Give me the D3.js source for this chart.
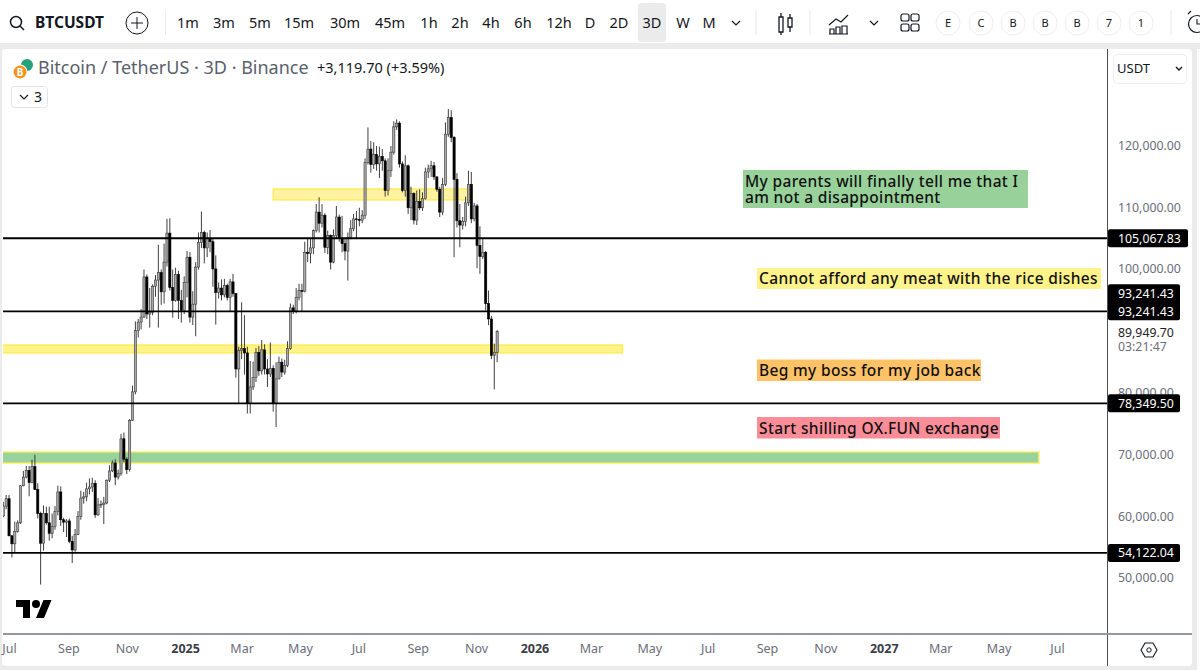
<!DOCTYPE html>
<html>
<head>
<meta charset="utf-8">
<script src="https://cdn.jsdelivr.net/npm/d3@7"></script>
<style>
html, body { margin: 0; padding: 0; background: #fff; }
svg { display: block; font-family: "Noto Sans", sans-serif; }
</style>
</head>
<body>
<svg id="chart" width="1200" height="670"></svg>
<script>
'use strict';

// bars are 3 days apart, first one is 2024-06-24. prices in thousands of USDT
var firstBar = new Date(Date.UTC(2024, 5, 24));

var opens = [
  60.1,61.7,62.9,56.9,55.6,57.6,59,65,66.4,67.5,
  65.5,68.1,64.4,60.5,55.7,60.5,59,57.3,58.4,60.8,
  64,59.5,59.1,59.3,56,54.6,57.1,60,63,63.2,
  64.5,64.8,65.4,60.3,61.9,62,62.2,65.9,67.4,68.7,
  66.4,67,72.6,69.3,67.6,75.6,80.2,90.1,91.5,92.3,
  98.8,92.8,93.1,97.3,98.3,99.5,96.4,101.2,105.9,97.1,
  95,99.2,95,93.4,97.9,102,92.3,94.4,100.4,104.4,
  106,103.5,105,104.5,100.1,96.3,97,95.9,97.4,95.5,
  98,96.1,83.9,86.9,87.2,86.5,78.3,81,82.5,86.6,
  83.6,87,83.9,83.1,84,78.3,82.3,85,83.4,84.5,
  87.2,93.8,93.3,95.5,96.6,96.5,102.8,102.6,103.5,106.3,
  109.3,107.5,108.8,103.6,105.5,101.2,105.5,108.5,105,104.2,
  103,105.2,106.6,108.2,108.1,108,108.8,117.3,119.5,117,
  118.6,117.1,118.3,117.6,112.8,116,119,123.1,123.7,117.1,
  112.8,116.8,110,112.3,108,111,110,111.5,115.8,116.3,
  116.8,115,113,109.3,113.8,121.9,124.6,121.4,114.6,107.9,
  107.2,107.8,110.8,113.8,108.2,110.3,103.9,102.1,102.8,94.5,
  92,86.1,86.6
];
var highs = [
  62.4,63.5,63.5,57,59.2,59.4,65.1,67.4,68.2,68.2,
  69.2,70,65.4,60.8,61.8,61.6,61.6,60.5,61.7,65,
  64.9,59.8,59.6,59.7,56.9,58,60.9,64.2,64,65.5,
  66.2,66.3,65.9,63,62.6,63.2,66,68.3,69.1,69.3,
  67.6,73.4,73.6,69.6,75.8,81.2,91.6,92,93.6,100,
  99.2,97,97.6,99.1,104,100,104.2,108.2,108.3,100,
  100.3,99.8,96.7,98.9,103,102.8,96.5,101.2,106,109.4,
  106.3,106,106.4,105,102.3,97.9,98.4,98.5,97.7,98.5,
  99.3,96.2,87.5,94.7,92.6,87.5,85.2,85.1,87.3,87.6,
  88.6,87.9,85.5,88.2,84.5,85,85.9,85.6,85.4,88.4,
  94.5,94.3,97,97.7,97.7,104.5,105,105,106.5,110.6,
  111.7,110.6,109.1,106.3,105.7,106.5,110.3,108.9,108.7,105,
  106,108,109,109.5,110,109.6,118,123,120.8,120.6,
  120,119.9,119.5,118,118,120,124,124.3,124,117.5,
  118.5,117,113.4,112.5,112.8,113,112.5,116.5,117,117.6,
  117.4,115.1,113.4,114.8,123.8,126,125.8,121.6,115.6,110.6,
  108.5,111.8,116,115.8,110.8,110.6,107,105.2,103,96.6,
  92.5,88,90.2
];
var lows = [
  59.9,61.2,56.8,53.4,54.2,57.4,58.8,64.9,66.2,63.3,
  65.4,64.3,59.7,49,54.5,58.7,56.1,56.5,57.9,60.2,
  58.5,57.5,56.7,55.7,52.5,54.3,57,59.5,62.1,62.5,
  63.6,64,59.8,60.1,61.4,58.8,62,65.6,67.2,65.1,
  66,66.6,68.8,66.9,67.3,75.5,79.8,89,90.3,92.2,
  92,90.6,92.6,95.6,90.6,94.3,94.5,100.5,96.6,92.2,
  94.8,92,91.4,92.8,95.5,91.4,91,89.2,100,103.5,
  101,102,102.8,97.2,91.1,95.3,95,95.5,95,93.2,
  95.6,82.5,78.3,85.5,83,76.7,76.7,80.5,81.8,82.8,
  83,83,81,82.6,77,74.5,82.2,82.6,83,84.2,
  87,92.8,92.9,95,93.2,96.3,101.2,101,102.5,106,
  106,106.8,102.7,102.5,100,101,105,104.5,102.8,101.5,
  98.2,104.9,106.2,105,107,107.5,108.2,117,115.7,116.3,
  116,114.8,116,111.8,112,115,118.6,122.6,116.5,112.5,
  111.8,109,108,107.3,107.2,109.6,109.5,111.3,114.8,115,
  114.5,112.6,108.5,108.8,113.5,121.5,120.6,102,106.8,103.6,
  106.5,107,110.3,107.5,107.8,100.2,99.3,101.7,93.4,91,
  85.5,80.6,85
];
var closes = [
  61.7,62.9,56.9,55.6,57.6,59,65,66.4,67.5,65.5,
  68.1,64.4,60.5,55.7,60.5,59,57.3,58.4,60.8,64,
  59.5,59.1,59.3,56,54.6,57.1,60,63,63.2,64.5,
  64.8,65.4,60.3,61.9,62,62.2,65.9,67.4,68.7,66.4,
  67,72.6,69.3,67.6,75.6,80.2,90.1,91.5,92.3,98.8,
  92.8,93.1,97.3,98.3,99.5,96.4,101.2,105.9,97.1,95,
  99.2,95,93.4,97.9,102,92.3,94.4,100.4,104.4,106,
  103.5,105,104.5,100.1,96.3,97,95.9,97.4,95.5,98,
  96.1,83.9,86.9,87.2,86.5,78.3,81,82.5,86.6,83.6,
  87,83.9,83.1,84,78.3,82.3,85,83.4,84.5,87.2,
  93.8,93.3,95.5,96.6,96.5,102.8,102.6,103.5,106.3,109.3,
  107.5,108.8,103.6,105.5,101.2,105.5,108.5,105,104.2,103,
  105.2,106.6,108.2,108.1,108,108.8,117.3,119.5,117,118.6,
  117.1,118.3,117.6,112.8,116,119,123.1,123.7,117.1,112.8,
  116.8,110,112.3,108,111,110,111.5,115.8,116.3,116.8,
  115,113,109.3,113.8,121.9,124.6,121.4,114.6,107.9,107.2,
  107.8,110.8,113.8,108.2,110.3,103.9,102.1,102.8,94.5,92,
  86.1,86.6,89.95
];

var priceTicks = [50, 60, 70, 80, 100, 110, 120];   // 90,000 sits under the last price label
var levelPrices = [105.06783, 93.24143, 78.3495, 54.12204];

// date labels on the bottom axis
var monthDates = [
  [2024,6],[2024,8],[2024,10],[2025,0],[2025,2],[2025,4],[2025,6],[2025,8],[2025,10],
  [2026,0],[2026,2],[2026,4],[2026,6],[2026,8],[2026,10],[2027,0],[2027,2],[2027,4],[2027,6]
];
var monthLabels = ['Jul','Sep','Nov','2025','Mar','May','Jul','Sep','Nov','2026','Mar','May','Jul','Sep','Nov','2027','Mar','May','Jul'];

// drawn zones: price from, price to, start date, end date
var zoneLow = [111.27, 86.5, 68.68];
var zoneHigh = [113.05, 87.79, 70.46];
var zoneFrom = [[2025,3,2],[2024,5,20],[2024,5,20]];
var zoneTo = [[2025,9,27],[2026,3,2],[2027,5,11]];
var zoneFill = ['#fff2a0','#fff38a','#98d29c'];

var intervals = ['1m','3m','5m','15m','30m','45m','1h','2h','4h','6h','12h','D','2D','3D','W','M'];
var intervalX = [188,224,260,299,345,390,429,460,491,523,559,590,619,652,683,709];
var badges = ['E','C','B','B','B','7','1'];
var badgeX = [948,981,1013,1045,1077,1109,1141];

var width = 1200, height = 670;
var plot = {left: 3, right: 1107, top: 49, bottom: 634};
var priceFont = 12.3;

var svg = d3.select('#chart');

var x = d3.scaleUtc()
    .domain([new Date(Date.UTC(2024, 6, 1)), new Date(Date.UTC(2027, 6, 1))])
    .range([10, 1058]);
var y = d3.scaleLinear().domain([50, 120]).range([578.4, 146]);

var barDates = closes.map((c, i) => d3.utcDay.offset(firstBar, i * 3));

// page background pieces
svg.append('rect').attr('width', width).attr('height', height).attr('fill', '#ebebeb');
svg.append('rect').attr('width', width).attr('height', 43).attr('fill', '#fff');
svg.append('rect').attr('x', 2).attr('y', 49).attr('width', 1190).attr('height', 617).attr('rx', 4).attr('fill', '#fff');
svg.append('rect').attr('x', 1197).attr('y', 49).attr('width', 3).attr('height', 621).attr('fill', '#fff');

svg.append('clipPath').attr('id', 'plotClip').append('rect')
    .attr('x', plot.left).attr('y', plot.top)
    .attr('width', plot.right - plot.left).attr('height', plot.bottom - plot.top);

var main = svg.append('g').attr('clip-path', 'url(#plotClip)');

// zones under the candles
main.append('g').selectAll('rect')
    .data(zoneLow)
    .join('rect')
    .attr('x', (d, i) => x(Date.UTC(zoneFrom[i][0], zoneFrom[i][1], zoneFrom[i][2])))
    .attr('width', (d, i) => x(Date.UTC(zoneTo[i][0], zoneTo[i][1], zoneTo[i][2])) - x(Date.UTC(zoneFrom[i][0], zoneFrom[i][1], zoneFrom[i][2])))
    .attr('y', (d, i) => y(zoneHigh[i]))
    .attr('height', (d, i) => y(zoneLow[i]) - y(zoneHigh[i]))
    .attr('fill', (d, i) => zoneFill[i])
    .attr('stroke', '#ffec4d')
    .attr('stroke-width', 1.3);

// candles
var candles = main.append('g');
candles.selectAll('line')
    .data(closes)
    .join('line')
    .attr('x1', (d, i) => x(barDates[i]))
    .attr('x2', (d, i) => x(barDates[i]))
    .attr('y1', (d, i) => y(highs[i]))
    .attr('y2', (d, i) => y(lows[i]))
    .attr('stroke', '#2a2a2a')
    .attr('stroke-width', 0.9);
candles.selectAll('rect')
    .data(closes)
    .join('rect')
    .attr('x', (d, i) => x(barDates[i]) - 1.1)
    .attr('width', 2.2)
    .attr('y', (d, i) => y(Math.max(opens[i], closes[i])))
    .attr('height', (d, i) => Math.max(0.8, Math.abs(y(opens[i]) - y(closes[i]))))
    .attr('fill', (d, i) => closes[i] >= opens[i] ? '#a8a8a8' : '#000')
    .attr('stroke', (d, i) => closes[i] >= opens[i] ? '#3c3c3c' : '#000')
    .attr('stroke-width', 0.6);

// horizontal levels
main.append('g').selectAll('line')
    .data(levelPrices)
    .join('line')
    .attr('x1', plot.left).attr('x2', plot.right)
    .attr('y1', d => y(d)).attr('y2', d => y(d))
    .attr('stroke', '#000')
    .attr('stroke-width', 1.8);

// price axis
var axisY = d3.axisRight(y)
    .tickValues(priceTicks)
    .tickSize(0)
    .tickPadding(0)
    .tickFormat(d => d3.format(',.2f')(d * 1000));
var yAxis = svg.append('g')
    .attr('transform', 'translate(1118,-0.5)')
    .call(axisY);
yAxis.select('.domain').remove();
yAxis.selectAll('text')
    .attr('font-size', priceFont)
    .attr('font-family', '"Noto Sans", sans-serif')
    .attr('fill', '#6a6d78');

// time axis
var axisX = d3.axisBottom(x)
    .tickValues(monthDates.map(d => new Date(Date.UTC(d[0], d[1], 1))))
    .tickSize(0)
    .tickPadding(0)
    .tickFormat((d, i) => monthLabels[i]);
var xAxis = svg.append('g')
    .attr('transform', 'translate(-1,644)')
    .call(axisX);
xAxis.select('.domain').remove();
xAxis.selectAll('text')
    .attr('font-size', 12.5)
    .attr('font-family', '"Noto Sans", sans-serif')
    .attr('font-weight', (d, i) => /^\d/.test(monthLabels[i]) ? 700 : 400)
    .attr('fill', (d, i) => /^\d/.test(monthLabels[i]) ? '#3a3d48' : '#6a6d78');

// axis borders
svg.append('line').attr('x1', plot.right + 0.5).attr('x2', plot.right + 0.5).attr('y1', 49).attr('y2', 666).attr('stroke', '#4a4d55').attr('stroke-width', 1);
svg.append('line').attr('x1', 3).attr('x2', 1192).attr('y1', 634).attr('y2', 634).attr('stroke', '#9598a1').attr('stroke-width', 2);

// black level labels on the price axis
var tags = [
  {p: 105.06783, w: 80},
  {p: 93.24143, w: 72, extra: true},
  {p: 78.3495, w: 72},
  {p: 54.12204, w: 72}
];
var tagGroup = svg.append('g');
tags.forEach(t => {
  var cy = y(t.p);
  tagGroup.append('rect').attr('x', 1108).attr('y', t.extra ? cy - 27 : cy - 9).attr('width', t.w).attr('height', t.extra ? 36 : 18).attr('rx', 2).attr('fill', '#000');
  [t.extra ? cy - 18 : null, cy].forEach(ty => {
    if (ty === null) return;
    tagGroup.append('text').attr('x', 1118).attr('y', ty).attr('dy', '0.35em')
        .attr('fill', '#fff').attr('font-size', priceFont).text(d3.format(',.2f')(t.p * 1000));
  });
});

svg.append('text').attr('x', 1118).attr('y', 333).attr('dy', '0.35em').attr('font-size', priceFont).attr('fill', '#222').text('89,949.70');
svg.append('text').attr('x', 1118).attr('y', 347).attr('dy', '0.35em').attr('font-size', priceFont).attr('fill', '#6a6d78').text('03:21:47');

// text notes on the chart
function note(x0, y0, w, h, fill, lines) {
  svg.append('rect').attr('x', x0).attr('y', y0).attr('width', w).attr('height', h).attr('fill', fill);
  lines.forEach((t, i) => {
    svg.append('text').attr('x', x0 + 2).attr('y', y0 + h / 2 + 0.5 + (i - (lines.length - 1) / 2) * 16.7)
        .attr('dy', '0.35em').attr('font-size', 15.5).attr('font-weight', 500).attr('letter-spacing', 0.35)
        .attr('fill', '#111').text(t);
  });
}
note(743, 170, 285, 38, '#98d19a', ['My parents will finally tell me that I', 'am not a disappointment']);
note(757, 268, 344, 21, '#fff38a', ['Cannot afford any meat with the rice dishes']);
note(757, 359.5, 224, 21.5, '#ffc266', ['Beg my boss for my job back']);
note(757, 417, 243, 21.5, '#fb8d99', ['Start shilling OX.FUN exchange']);

// title row
var coin = svg.append('g');
coin.append('circle').attr('cx', 27).attr('cy', 65).attr('r', 6).attr('fill', '#26a17b');
coin.append('circle').attr('cx', 20).attr('cy', 72).attr('r', 7.5).attr('fill', '#fff');
coin.append('circle').attr('cx', 20).attr('cy', 72).attr('r', 6.5).attr('fill', '#f7931a');
coin.append('text').attr('x', 20).attr('y', 72).attr('dy', '0.36em').attr('text-anchor', 'middle').attr('font-size', 10).attr('font-weight', 700).attr('fill', '#fff').text('B');

svg.append('text').attr('x', 38).attr('y', 74).attr('font-size', 18).attr('fill', '#5a5f6b').text('Bitcoin / TetherUS · 3D · Binance');
svg.append('text').attr('x', 317).attr('y', 73).attr('font-size', 14.5).attr('fill', '#131722').text('+3,119.70 (+3.59%)');

svg.append('rect').attr('x', 11.5).attr('y', 86.5).attr('width', 36).attr('height', 21).attr('rx', 3).attr('fill', '#fff').attr('stroke', '#e0e3eb');
svg.append('path').attr('d', 'M20 95l4 4 4-4').attr('fill', 'none').attr('stroke', '#131722').attr('stroke-width', 1.2);
svg.append('text').attr('x', 34).attr('y', 102).attr('font-size', 14).attr('fill', '#131722').text('3');

// USDT box
svg.append('rect').attr('x', 1113.5).attr('y', 54.5).attr('width', 73).attr('height', 29).attr('rx', 4).attr('fill', '#fff').attr('stroke', '#eeeeee');
svg.append('text').attr('x', 1117).attr('y', 73).attr('font-size', 13).attr('fill', '#131722').text('USDT');
svg.append('path').attr('d', 'M1176 67l3 3 3-3').attr('fill', 'none').attr('stroke', '#131722').attr('stroke-width', 1.4);

// tradingview mark
var logo = svg.append('g').attr('transform', 'translate(16,596)').attr('fill', '#000');
logo.append('path').attr('d', 'M14 22H7V11H0V4h14v18zM28 22h-8l7.5-18h8L28 22z');
logo.append('circle').attr('cx', 20).attr('cy', 8).attr('r', 4);

// settings hexagon
svg.append('path').attr('d', 'M1141 650l4-7h8l4 7-4 7h-8z').attr('fill', 'none').attr('stroke', '#131722').attr('stroke-width', 1.1);
svg.append('circle').attr('cx', 1149).attr('cy', 650).attr('r', 2.2).attr('fill', 'none').attr('stroke', '#131722');

// toolbar
var bar = svg.append('g');
bar.append('circle').attr('cx', 16).attr('cy', 22).attr('r', 5.5).attr('fill', 'none').attr('stroke', '#131722').attr('stroke-width', 1.5);
bar.append('line').attr('x1', 20).attr('y1', 26).attr('x2', 24).attr('y2', 30).attr('stroke', '#131722').attr('stroke-width', 1.5);
bar.append('text').attr('x', 35).attr('y', 28).attr('font-size', 15.5).attr('font-weight', 700).attr('fill', '#131722').text('BTCUSDT');
bar.append('circle').attr('cx', 137).attr('cy', 23).attr('r', 11).attr('fill', 'none').attr('stroke', '#131722').attr('stroke-width', 1);
bar.append('path').attr('d', 'M137 17v12M131 23h12').attr('stroke', '#131722').attr('stroke-width', 1);

[165.5, 756, 810, 1171].forEach(sx => {
  bar.append('line').attr('x1', sx).attr('x2', sx).attr('y1', 10).attr('y2', 35).attr('stroke', '#e8e8e8');
});

bar.append('rect').attr('x', 638).attr('y', 3).attr('width', 28).attr('height', 39).attr('rx', 4).attr('fill', '#ebebeb');
bar.selectAll('text.interval')
    .data(intervals)
    .join('text')
    .attr('class', 'interval')
    .attr('x', (d, i) => intervalX[i])
    .attr('y', 28)
    .attr('text-anchor', 'middle')
    .attr('font-size', 14.5)
    .attr('fill', '#131722')
    .text(d => d);
bar.append('path').attr('d', 'M732 21l4 4 4-4M870 21l4 4 4-4').attr('fill', 'none').attr('stroke', '#131722').attr('stroke-width', 1.2);

// candle icon
bar.append('path').attr('d', 'M779 17h4v15h-4zM781 13v4M781 32v3M788 18h4v9h-4zM790 14v4M790 27v5').attr('fill', 'none').attr('stroke', '#131722').attr('stroke-width', 1.3);
// indicators icon
bar.append('path').attr('d', 'M829 25l7-6 5 3 7-7M829 34h19M830 34v-5h4v5M836 34v-7h4v7M842 34v-8h5v8').attr('fill', 'none').attr('stroke', '#131722').attr('stroke-width', 1.2);
// layout icon
[[901,14],[911,14],[901,24],[911,24]].forEach(p => {
  bar.append('rect').attr('x', p[0]).attr('y', p[1]).attr('width', 8).attr('height', 7).attr('rx', 2).attr('fill', 'none').attr('stroke', '#131722').attr('stroke-width', 1.2);
});
// alert clock, cut by the page edge
bar.append('circle').attr('cx', 1197).attr('cy', 24).attr('r', 8.5).attr('fill', 'none').attr('stroke', '#131722').attr('stroke-width', 1.2);
bar.append('path').attr('d', 'M1197 19v5h3M1188 14l3-3').attr('fill', 'none').attr('stroke', '#131722').attr('stroke-width', 1.1);

badges.forEach((b, i) => {
  bar.append('circle').attr('cx', badgeX[i]).attr('cy', 23).attr('r', 12).attr('fill', '#fff').attr('stroke', '#eeeeee');
  bar.append('text').attr('x', badgeX[i]).attr('y', 27).attr('text-anchor', 'middle').attr('font-size', 11).attr('fill', '#131722').text(b);
});
</script>
</body>
</html>
